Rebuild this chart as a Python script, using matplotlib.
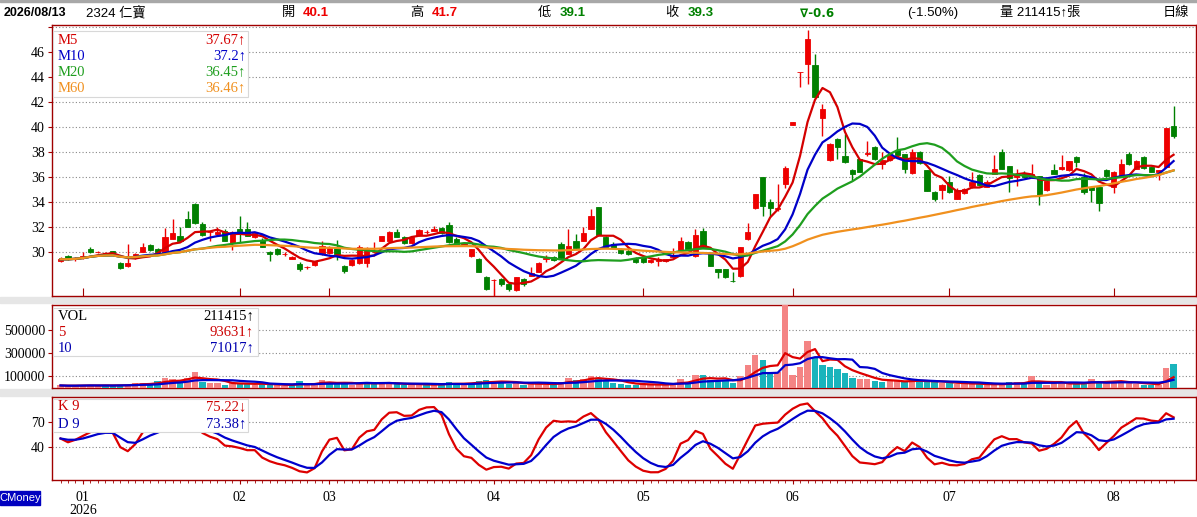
import numpy as np
import pandas as pd
import matplotlib
matplotlib.use('Agg')
import matplotlib.pyplot as plt
from matplotlib.patches import Rectangle

W, H = 1197, 517

# daily candles, 2025/12/29 .. 2026/08/13 (150 trading days)
opens = [29.30, 29.65, 29.40, 29.55, 30.25, 29.95, 29.85, 30.05, 29.10, 28.85,
         29.55, 30.00, 30.55, 30.20, 29.90, 31.05, 31.25, 32.65, 33.85, 32.25,
         31.55, 31.40, 31.70, 30.70, 31.85, 31.80, 31.20, 30.95, 30.00, 30.20,
         29.80, 29.45, 29.05, 28.75, 28.95, 29.80, 29.90, 30.40, 28.85, 28.95,
         29.10, 29.10, 29.95, 30.90, 30.90, 31.60, 31.20, 30.70, 31.35, 31.60,
         31.70, 31.90, 32.15, 31.05, 30.55, 29.65, 29.45, 27.95, 27.75, 27.80,
         27.40, 26.95, 27.80, 28.10, 28.40, 29.45, 29.60, 30.65, 29.85, 30.85,
         30.90, 31.85, 33.55, 31.15, 30.65, 30.20, 30.10, 29.45, 29.55, 29.20,
         29.30, 29.25, 29.60, 30.15, 30.80, 29.65, 31.65, 29.80, 28.60, 28.60,
         27.70, 28.05, 31.05, 33.50, 35.95, 34.00, 33.45, 35.40, 40.15, 44.35,
         45.05, 44.98, 40.70, 37.35, 39.05, 37.65, 36.55, 37.40, 37.85, 38.40,
         37.00, 37.35, 38.10, 37.80, 36.30, 38.00, 36.50, 34.80, 34.95, 35.60,
         34.25, 34.70, 35.30, 36.15, 35.20, 36.25, 38.00, 36.85, 36.00, 36.25,
         36.00, 36.05, 34.95, 36.55, 36.60, 36.55, 37.60, 35.95, 35.15, 35.15,
         36.55, 35.20, 36.05, 37.80, 36.65, 37.60, 36.75, 36.40, 36.80, 40.10]
highs = [29.60, 29.75, 29.60, 30.00, 30.40, 30.10, 30.00, 30.10, 29.20, 30.60,
         29.90, 30.70, 30.60, 30.30, 31.90, 32.60, 31.95, 33.25, 33.90, 32.40,
         31.70, 32.00, 31.80, 31.65, 32.90, 32.40, 31.60, 31.10, 30.10, 30.30,
         29.95, 29.70, 29.15, 28.90, 29.30, 30.90, 30.50, 30.95, 28.95, 29.40,
         30.55, 30.40, 30.80, 31.30, 31.70, 31.80, 31.30, 31.20, 31.80, 31.75,
         32.10, 32.00, 32.40, 31.15, 30.75, 30.25, 29.50, 28.05, 27.85, 27.90,
         27.50, 28.00, 27.90, 28.75, 29.20, 29.75, 29.70, 30.75, 31.85, 31.45,
         32.00, 33.45, 33.60, 31.25, 30.75, 30.30, 30.40, 29.60, 29.70, 29.40,
         29.55, 29.45, 30.30, 31.20, 30.90, 31.85, 31.90, 29.85, 28.65, 28.65,
         28.35, 30.40, 32.30, 34.65, 36.00, 34.25, 35.40, 36.90, 40.35, 44.35,
         47.75, 45.80, 41.85, 38.70, 39.10, 39.45, 36.60, 37.45, 38.90, 38.45,
         38.00, 37.80, 39.20, 37.85, 38.25, 38.10, 36.55, 34.85, 35.40, 36.10,
         35.10, 35.10, 36.35, 36.20, 35.70, 37.75, 38.25, 36.90, 36.65, 36.50,
         37.05, 36.10, 35.70, 37.00, 37.75, 37.30, 37.65, 36.30, 35.20, 35.20,
         36.60, 36.45, 37.45, 37.95, 37.35, 37.65, 36.80, 36.55, 39.90, 41.70]
lows = [29.20, 29.35, 29.30, 29.45, 29.90, 29.90, 29.75, 29.75, 28.60, 28.80,
        29.45, 29.95, 30.10, 29.95, 29.85, 31.00, 30.85, 31.95, 32.25, 31.30,
        30.90, 31.30, 30.85, 30.15, 30.80, 31.25, 31.10, 30.35, 29.30, 29.75,
        29.65, 29.40, 28.50, 28.60, 28.85, 29.75, 29.85, 29.35, 28.30, 28.85,
        29.05, 28.80, 29.90, 30.85, 30.85, 31.15, 30.65, 30.60, 31.30, 31.45,
        31.65, 31.45, 30.70, 30.60, 30.50, 29.55, 28.35, 26.95, 26.45, 27.30,
        26.90, 26.90, 27.30, 28.05, 28.35, 29.20, 29.25, 29.40, 29.80, 30.25,
        30.85, 31.80, 31.30, 30.35, 30.20, 29.85, 29.75, 29.10, 29.10, 29.10,
        28.90, 29.15, 29.55, 30.10, 30.15, 29.60, 30.30, 28.85, 27.90, 27.90,
        27.60, 28.00, 30.95, 33.40, 32.85, 32.85, 33.30, 35.10, 40.15, 43.20,
        43.40, 42.35, 39.25, 37.30, 37.40, 37.10, 35.70, 36.35, 37.65, 37.35,
        36.60, 37.30, 37.70, 36.30, 36.25, 37.05, 34.85, 34.10, 34.20, 34.70,
        34.20, 34.65, 35.10, 35.30, 35.15, 36.20, 36.60, 34.75, 35.25, 35.95,
        35.90, 33.75, 34.90, 36.20, 36.55, 36.50, 36.80, 34.60, 33.95, 33.30,
        36.00, 34.70, 36.00, 36.95, 36.60, 36.65, 36.35, 35.70, 36.75, 39.10]
closes = [29.40, 29.40, 29.50, 29.70, 30.00, 30.00, 29.90, 29.80, 28.70, 29.10,
          29.80, 30.40, 30.15, 30.00, 31.15, 31.50, 30.90, 32.00, 32.30, 31.35,
          31.60, 31.60, 30.90, 31.60, 31.45, 31.30, 31.50, 30.40, 29.80, 29.80,
          29.80, 29.60, 28.60, 28.75, 29.25, 30.45, 30.35, 29.85, 28.45, 29.35,
          30.40, 30.25, 30.00, 31.25, 31.60, 31.20, 30.70, 31.15, 31.75, 31.60,
          31.85, 31.50, 30.75, 30.65, 30.70, 30.20, 28.40, 27.00, 27.75, 27.45,
          27.00, 27.95, 27.40, 28.30, 29.10, 29.47, 29.35, 29.50, 30.45, 30.30,
          31.50, 32.85, 31.35, 30.40, 30.30, 29.90, 29.80, 29.15, 29.15, 29.35,
          29.35, 29.40, 29.70, 30.85, 30.20, 31.30, 30.35, 28.90, 28.35, 27.95,
          27.66, 30.40, 31.55, 34.65, 33.65, 33.50, 33.50, 36.70, 40.35, 44.35,
          47.00, 42.40, 41.40, 38.65, 38.40, 37.15, 36.20, 36.40, 37.90, 37.40,
          37.33, 37.70, 37.75, 36.65, 38.00, 37.10, 34.90, 34.25, 35.35, 34.75,
          34.95, 35.05, 35.60, 35.35, 35.60, 36.65, 36.65, 35.90, 36.20, 36.00,
          36.20, 34.55, 35.65, 36.25, 36.75, 37.25, 37.20, 34.80, 34.95, 33.90,
          36.05, 36.40, 37.00, 37.00, 37.30, 36.70, 36.40, 36.50, 39.90, 39.30]
volumes = [22000, 18000, 20000, 24000, 26000, 20000, 22000, 18000, 30000, 28000,
           40000, 45000, 30000, 60000, 85000, 80000, 60000, 90000, 135000, 55000,
           45000, 40000, 30000, 45000, 35000, 40000, 30000, 35000, 30000, 25000,
           20000, 25000, 60000, 30000, 35000, 70000, 45000, 40000, 35000, 30000,
           45000, 55000, 35000, 40000, 40000, 35000, 30000, 30000, 35000, 25000,
           30000, 35000, 50000, 40000, 30000, 45000, 60000, 70000, 55000, 50000,
           35000, 45000, 30000, 35000, 40000, 30000, 35000, 55000, 90000, 65000,
           80000, 105000, 85000, 60000, 40000, 35000, 30000, 30000, 35000, 25000,
           30000, 28000, 45000, 80000, 55000, 115000, 110000, 65000, 60000, 65000,
           40000, 105000, 195000, 285000, 245000, 120000, 135000, 720000, 115000, 180000,
           405000, 260000, 200000, 185000, 165000, 130000, 90000, 80000, 80000, 57000,
           51000, 70000, 57000, 51000, 70000, 65000, 57000, 51000, 42000, 42000,
           36000, 40000, 36000, 36000, 22000, 30000, 40000, 50000, 50000, 42000,
           100000, 42000, 30000, 42000, 42000, 42000, 36000, 36000, 80000, 50000,
           60000, 52000, 52000, 42000, 36015, 30000, 29000, 25740, 172000, 211415]

month_pos = [3, 24, 36, 58, 78, 98, 119, 141]
month_labels = ['01\n2026', '02', '03', '04', '05', '06', '07', '08']

ma_names = ['M5', 'M10', 'M20', 'M60']
ma_windows = [5, 10, 20, 60]
ma_values = ['37.67↑', '37.2↑', '36.45↑', '36.46↑']
vol_names = ['VOL', '5', '10']
vol_values = ['211415↑', '93631↑', '71017↑']
kd_names = ['K 9', 'D 9']
kd_values = ['75.22↓', '73.38↑']

RED = '#ee0000'
GREEN = '#008000'
FRAME = '#a00000'
MA_COLORS = ['#d40000', '#0000c8', '#1e9e1e', '#f0901e']
SERIF = ['Liberation Serif', 'DejaVu Serif']
SANS = ['Liberation Sans', 'Noto Sans CJK TC', 'DejaVu Sans']
LEG_FS = 10.5

o = np.array(opens); h = np.array(highs); l = np.array(lows); c = np.array(closes)
v = np.array(volumes, dtype=float)
x = np.arange(len(c))
cs = pd.Series(c)

up = c >= o
ccol = np.where(up, RED, GREEN)
prev = np.r_[c[0], c[:-1]]
vcol = np.where(c >= prev, '#f48484', '#1ab4bc')

# KD (9)
hh = pd.Series(h).rolling(9, min_periods=1).max().values
ll = pd.Series(l).rolling(9, min_periods=1).min().values
rsv = np.where(hh > ll, (c - ll) / np.maximum(hh - ll, 1e-9) * 100, 50)
K = np.zeros(len(c)); D = np.zeros(len(c))
kp, dp = 50.0, 50.0
for i in range(len(c)):
    kp = kp * 2 / 3 + rsv[i] / 3
    dp = dp * 2 / 3 + kp / 3
    K[i], D[i] = kp, dp

fig = plt.figure(figsize=(W / 100, H / 100), dpi=100)
fig.patch.set_facecolor('white')


def box(x0, y0, x1, y1, **kw):
    return Rectangle((x0 / W, 1 - y1 / H), (x1 - x0) / W, (y1 - y0) / H,
                     transform=fig.transFigure, **kw)


def ftext(px, py, s, **kw):
    kw.setdefault('va', 'center')
    fig.text(px / W, 1 - py / H, s, **kw)


def add_ax(top, bottom):
    return fig.add_axes([52 / W, 1 - bottom / H, (1196 - 52) / W, (bottom - top) / H])


xl = (-1.14, 152.0)
grid_kw = dict(color='#888888', linestyle=(0, (1, 2)), linewidth=0.8)

# separators
fig.add_artist(box(0, 0, W, 2, color='#a8a8a8', zorder=0))
fig.add_artist(box(0, 297, W, 303, color='#e6e6e6', zorder=0))
fig.add_artist(box(0, 389, W, 396, color='#e6e6e6', zorder=0))

# price panel
ax = add_ax(25, 296)
ax.vlines(x, l, h, colors=ccol, linewidth=1, zorder=3)
ax.bar(x, np.maximum(np.abs(c - o), 0.02), bottom=np.minimum(o, c), width=0.7,
       color=ccol, edgecolor=ccol, linewidth=0.6, zorder=4)
for w_, col in zip(ma_windows, MA_COLORS):
    ax.plot(x, cs.rolling(w_, min_periods=1).mean(), color=col, lw=1.6, zorder=5)
ax.set_ylim(26.46, 48.14)
ax.set_yticks(np.arange(30, 49, 2))
ax.set_yticklabels([str(t) if t < 48 else '' for t in range(30, 49, 2)])
ax.set_xticks(month_pos)
ax.set_xticklabels([])
ax.tick_params(axis='x', direction='in', length=6, color=FRAME)

# volume panel
axv = add_ax(305, 388)
axv.bar(x, v, width=0.85, color=vcol, zorder=3)
vs = pd.Series(v)
axv.plot(x, vs.rolling(5, min_periods=1).mean(), color='#dd0000', lw=1.6, zorder=4)
axv.plot(x, vs.rolling(10, min_periods=1).mean(), color='#0000cc', lw=1.6, zorder=4)
axv.set_ylim(0, 717000)
axv.set_yticks([100000, 300000, 500000])
axv.set_yticklabels(['100000', '300000', '500000'])
axv.set_xticks([])

# KD panel
axk = add_ax(397, 480)
axk.plot(x, K, color='#dd0000', lw=1.6, zorder=4)
axk.plot(x, D, color='#0000cc', lw=1.6, zorder=4)
axk.set_ylim(0, 100)
axk.set_yticks([40, 70])
axk.set_xticks(month_pos)
axk.set_xticklabels(month_labels, linespacing=0.95)
axk.set_xticks(x, minor=True)
axk.tick_params(axis='x', which='major', direction='out', length=3, color=FRAME, pad=5)
axk.tick_params(axis='x', which='minor', direction='out', length=2, color=FRAME)

for a in (ax, axv, axk):
    a.set_xlim(*xl)
    a.grid(axis='y', **grid_kw)
    a.set_axisbelow(True)
    for sp in a.spines.values():
        sp.set_color(FRAME)
        sp.set_linewidth(1)
    a.tick_params(axis='y', direction='out', length=3, color=FRAME, pad=2)
    for t in a.get_yticklabels() + a.get_xticklabels():
        t.set_fontfamily(SERIF)
        t.set_fontsize(10)

# legends
fig.add_artist(box(53, 31, 248, 97, facecolor='white', edgecolor='#d8d8d8', lw=0.8, zorder=5))
for k, (nm, val, col) in enumerate(zip(ma_names, ma_values, MA_COLORS)):
    yy = 40 + 16 * k
    ftext(58, yy, nm, color=col, family=SERIF, fontsize=LEG_FS, zorder=6)
    ftext(246, yy, val, color=col, family=SERIF, fontsize=LEG_FS, ha='right', zorder=6)

fig.add_artist(box(53, 308, 258, 356, facecolor='white', edgecolor='#d8d8d8', lw=0.8, zorder=5))
for k, (nm, val, col) in enumerate(zip(vol_names, vol_values, ['black', '#cc0000', '#0000b0'])):
    yy = 316 + 16 * k
    ftext(58, yy, nm, color=col, family=SERIF, fontsize=LEG_FS, zorder=6)
    ftext(254, yy, val, color=col, family=SERIF, fontsize=LEG_FS, ha='right', zorder=6)

fig.add_artist(box(53, 399, 248, 432, facecolor='white', edgecolor='#d8d8d8', lw=0.8, zorder=5))
for k, (nm, val, col) in enumerate(zip(kd_names, kd_values, ['#cc0000', '#0000b0'])):
    yy = 407 + 17 * k
    ftext(58, yy, nm, color=col, family=SERIF, fontsize=LEG_FS, zorder=6)
    ftext(246, yy, val, color=col, family=SERIF, fontsize=LEG_FS, ha='right', zorder=6)

# header
hy = 13
ftext(4, hy, '2026/08/13', color='black', family=SANS, fontsize=9, fontweight='bold')
ftext(86, hy, '2324 仁寶', color='black', family=SANS, fontsize=9.5)
hdr = [('開', f'{opens[-1]:.1f}', RED, 282, 303),
       ('高', f'{highs[-1]:.1f}', RED, 410, 432),
       ('低', f'{lows[-1]:.1f}', GREEN, 538, 560),
       ('收', f'{closes[-1]:.1f}', GREEN, 665, 688)]
for lab, val, col, x0, x1 in hdr:
    ftext(x0, hy, lab, color='black', family=SANS, fontsize=9.5)
    ftext(x1, hy, val, color=col, family=SANS, fontsize=9.5, fontweight='bold')
chg = closes[-1] - closes[-2]
ftext(800, hy, f'∇{chg:.1f}', color=GREEN, family=['DejaVu Sans'], fontsize=8.5, fontweight='bold')
ftext(907, hy, f'({chg / closes[-2] * 100:.2f}%)', color='black', family=SANS, fontsize=9.5)
ftext(1000, hy, f'量 {volumes[-1]}↑張', color='black', family=SANS, fontsize=9.5)
ftext(1163, hy, '日線', color='black', family=SANS, fontsize=9.5)

# brand tag
fig.add_artist(box(0, 491, 40, 505, color='#0000c0', zorder=5))
ftext(20, 498, 'CMoney', color='white', family=SANS, fontsize=8, ha='center', zorder=6)

fig.savefig('out.png', dpi=100, facecolor='white')
